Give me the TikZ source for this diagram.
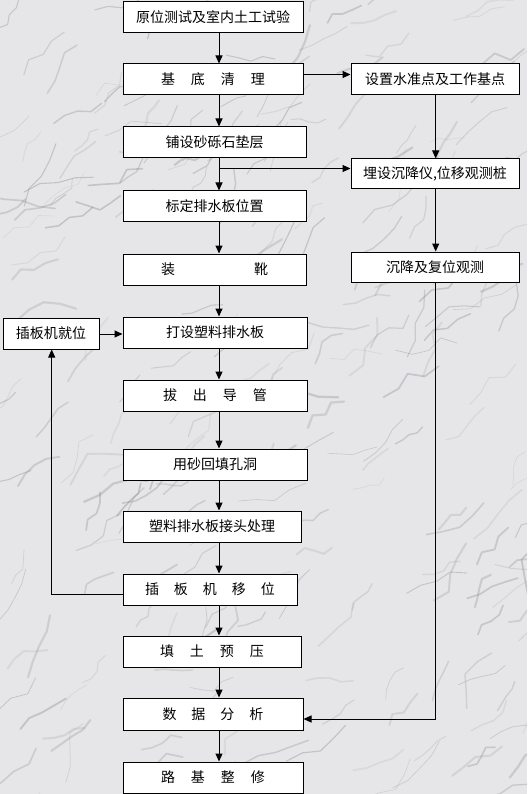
\documentclass[tikz,border=0pt]{standalone}
\usepackage{fontspec}
\setmainfont{Noto Sans CJK SC}
\usetikzlibrary{arrows.meta,calc}
\definecolor{bgmarble}{RGB}{230,230,232}
\definecolor{vein}{RGB}{140,140,146}
\tikzset{
  box/.style={draw=black,line width=1pt,fill=white,minimum height=31pt,inner sep=0pt,font=\fontsize{14pt}{14pt}\selectfont},
  arr/.style={line width=1pt,-{Triangle[length=8pt,width=7pt]}},
  ln/.style={line width=1pt}
}
\newcommand{\gp}{\hspace{16pt}}
\begin{document}
\begin{tikzpicture}[x=1pt,y=-1pt]
\useasboundingbox (0,0) rectangle (527,794);
\fill[bgmarble] (0,0) rectangle (527,794);
\begin{scope}
\clip (0,0) rectangle (527,794);
\pgfmathsetseed{11}
\foreach \i in {1,...,260}{
  \pgfmathsetmacro{\xa}{rnd*567-20}
  \pgfmathsetmacro{\ya}{rnd*834-20}
  \pgfmathsetmacro{\ang}{10+rnd*60}
  \pgfmathsetmacro{\lw}{0.5+rnd*1.8}
  \pgfmathsetmacro{\op}{0.12+rnd*0.28}
  \pgfmathsetmacro{\sa}{8+rnd*10}
  \pgfmathsetmacro{\aa}{\ang+(rnd-0.5)*70}
  \pgfmathsetmacro{\ab}{\ang+(rnd-0.5)*70}
  \pgfmathsetmacro{\ac}{\ang+(rnd-0.5)*70}
  \pgfmathsetmacro{\ad}{\ang+(rnd-0.5)*70}
  \draw[vein,line width=\lw pt,opacity=\op,line cap=round,line join=round]
    (\xa,\ya) -- ++(-\aa:\sa) -- ++(-\ab:\sa) -- ++(-\ac:\sa) -- ++(-\ad:\sa);
}
\end{scope}

\coordinate (mc) at (219,0);
\coordinate (rc) at (435.7,0);

\node[box,minimum width=180pt] (b1) at (213,17.5) {原位测试及室内土工试验};
\node[box,minimum width=180pt] (b2) at (213,79.5) {基\gp 底\gp 清\gp 理};
\node[box,minimum width=168pt] (r1) at (435,79.5) {设置水准点及工作基点};
\node[box,minimum width=183pt] (b3) at (214.5,142.5) {铺设砂砾石垫层};
\node[box,minimum width=168pt,minimum height=30pt] (r2) at (435,174) {埋设沉降仪,位移观测桩};
\node[box,minimum width=183pt] (b4) at (214.5,206.5) {标定排水板位置};
\node[box,minimum width=183pt] (b5) at (214.5,269.5) {装\hspace{79pt}靴};
\node[box,minimum width=168pt,minimum height=30pt] (r3) at (435,267) {沉降及复位观测};
\node[box,minimum width=96pt] (l1) at (51,333.5) {插板机就位};
\node[box,minimum width=184pt] (b6) at (215,332.5) {打设塑料排水板};
\node[box,minimum width=184pt] (b7) at (215,395.5) {拔\gp 出\gp 导\gp 管};
\node[box,minimum width=184pt] (b8) at (215,464.5) {用砂回填孔洞};
\node[box,minimum width=178pt] (b9) at (212,526.5) {塑料排水板接头处理};
\node[box,minimum width=174pt] (b10) at (210,589.5) {插\hspace{15pt}板\hspace{15pt}机\hspace{15pt}移\hspace{15pt}位};
\node[box,minimum width=178pt] (b11) at (212,651.5) {填\gp 土\gp 预\gp 压};
\node[box,minimum width=180pt,minimum height=32pt] (b12) at (213,714) {数\hspace{15pt}据\hspace{15pt}分\hspace{15pt}析};
\node[box,minimum width=180pt] (b13) at (213,777.5) {路\gp 基\gp 整\gp 修};

% main column
\foreach \a/\b in {b1/b2,b2/b3,b3/b4,b4/b5,b5/b6,b6/b7,b7/b8,b8/b9,b9/b10,b10/b11,b11/b12,b12/b13}{
  \draw[arr] (\a.south -| mc) -- (\b.north -| mc);
}
% branches to the right
\draw[arr] ($(b2.east)+(0,-5)$) -- ($(r1.west)+(0,-5)$);
\coordinate (j1) at ($(b3.south -| mc)+(0,10)$);
\draw[arr] (j1) -- (j1 -| r2.west);
\draw[arr] (r1.south -| rc) -- (r2.north -| rc);
\draw[arr] (r2.south -| rc) -- (r3.north -| rc);
\coordinate (k1) at (rc |- 0,719);
\draw[arr] (r3.south -| rc) -- (k1) -- (k1 -| b12.east);
% loop
\draw[arr] (l1.east |- 0,334) -- (b6.west |- 0,334);
\coordinate (k2) at (51.7,594.3);
\draw[arr] (k2 -| b10.west) -- (k2) -- (k2 |- l1.south);
\end{tikzpicture}
\end{document}
